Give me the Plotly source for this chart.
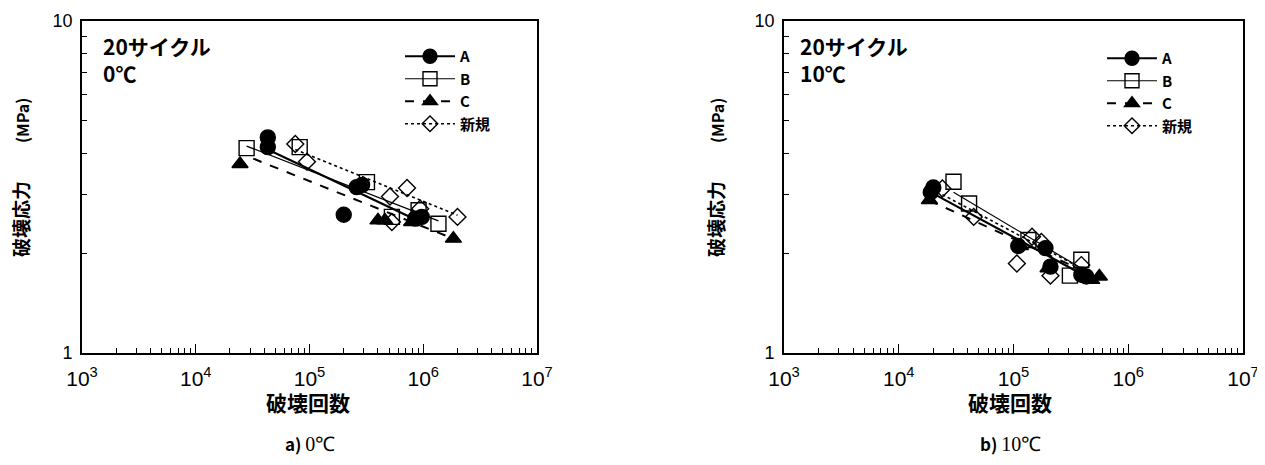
import plotly.graph_objects as go

# ---------------- data ----------------
# a) 0℃
A_N0 = [4.3e4, 4.3e4, 2.6e5, 2.9e5, 2.0e5, 8.5e5, 9.7e5]
A_S0 = [4.46, 4.17, 3.16, 3.21, 2.61, 2.54, 2.57]
B_N0 = [2.8e4, 8.2e4, 3.2e5, 5.3e5, 9.1e5, 1.36e6]
B_S0 = [4.14, 4.17, 3.27, 2.57, 2.69, 2.45]
C_N0 = [2.45e4, 4.0e5, 4.6e5, 7.9e5, 1.84e6]
C_S0 = [3.71, 2.51, 2.51, 2.48, 2.21]
X_N0 = [7.5e4, 9.5e4, 5.1e5, 7.2e5, 5.3e5, 9.4e5, 2.0e6]
X_S0 = [4.26, 3.77, 2.96, 3.14, 2.48, 2.72, 2.57]
# fitted lines (end points) 0℃
A_fitN0, A_fitS0 = [4.3e4, 1.0e6], [4.10, 2.46]
B_fitN0, B_fitS0 = [2.8e4, 1.36e6], [4.20, 2.50]
C_fitN0, C_fitS0 = [3.2e4, 1.72e6], [3.85, 2.23]
X_fitN0, X_fitS0 = [7.5e4, 2.0e6], [4.10, 2.60]

# b) 10℃
A_N1 = [2.0e4, 1.9e4, 1.1e5, 1.9e5, 2.1e5, 3.9e5, 4.3e5]
A_S1 = [3.15, 3.05, 2.10, 2.07, 1.82, 1.72, 1.70]
B_N1 = [3.0e4, 4.1e4, 1.35e5, 3.1e5, 3.9e5]
B_S1 = [3.28, 2.82, 2.19, 1.71, 1.91]
C_N1 = [1.85e4, 1.15e5, 2.0e5, 4.8e5, 5.6e5]
C_S1 = [2.89, 2.10, 1.80, 1.66, 1.70]
X_N1 = [2.4e4, 4.5e4, 1.07e5, 1.45e5, 1.75e5, 2.1e5, 3.9e5]
X_S1 = [3.13, 2.57, 1.86, 2.24, 2.16, 1.71, 1.84]
# fitted lines (end points) 10℃
A_fitN1, A_fitS1 = [2.0e4, 4.3e5], [3.02, 1.70]
B_fitN1, B_fitS1 = [3.0e4, 3.9e5], [3.05, 1.80]
C_fitN1, C_fitS1 = [1.85e4, 5.6e5], [2.88, 1.68]
X_fitN1, X_fitS1 = [2.4e4, 3.9e5], [3.00, 1.80]

series_names = ["A", "B", "C", "新規"]
x_tickvals = [1e3, 1e4, 1e5, 1e6, 1e7]
x_ticktext = ["10<sup>3</sup>", "10<sup>4</sup>", "10<sup>5</sup>", "10<sup>6</sup>", "10<sup>7</sup>"]
y_tickvals = [1, 10]
y_ticktext = ["1", "10"]
panel_notes = ["20サイクル<br>0℃", "20サイクル<br>10℃"]
captions = ["<b>a)</b> <span style='font-family:Liberation Serif;font-size:20px'>0℃</span>",
            "<b>b)</b> <span style='font-family:Liberation Serif;font-size:20px'>10℃</span>"]
x_title = "破壊回数"
y_title = "破壊応力　　<span style='font-size:16px'>(MPa)</span>"

# ---------------- styles / layout ----------------
W, H = 1257, 457          # page body has an 8px margin
OFF = 8


def px(x):
    return (x - OFF) / W


def py(y):
    return 1 - (y - OFF) / H


JP = "Noto Sans CJK JP"
BLACK = "black"
styles = {
    "A": dict(symbol="circle", size=15, line=dict(width=2.2, dash="solid")),
    "B": dict(symbol="square-open", size=15, line=dict(width=1.2, dash="solid")),
    "C": dict(symbol="triangle-up", size=14, line=dict(width=2, dash="dash")),
    "新規": dict(symbol="diamond-open", size=13, line=dict(width=1.6, dash="dot")),
}

panels = [
    dict(xa="x", ya="y", legend="legend",
         pts={"A": (A_N0, A_S0), "B": (B_N0, B_S0), "C": (C_N0, C_S0), "新規": (X_N0, X_S0)},
         fits={"A": (A_fitN0, A_fitS0), "B": (B_fitN0, B_fitS0), "C": (C_fitN0, C_fitS0), "新規": (X_fitN0, X_fitS0)}),
    dict(xa="x2", ya="y2", legend="legend2",
         pts={"A": (A_N1, A_S1), "B": (B_N1, B_S1), "C": (C_N1, C_S1), "新規": (X_N1, X_S1)},
         fits={"A": (A_fitN1, A_fitS1), "B": (B_fitN1, B_fitS1), "C": (C_fitN1, C_fitS1), "新規": (X_fitN1, X_fitS1)}),
]

fig = go.Figure()
for p in panels:
    for name in series_names:
        st = styles[name]
        fx, fy = p["fits"][name]
        fig.add_trace(go.Scatter(x=fx, y=fy, mode="lines", xaxis=p["xa"], yaxis=p["ya"],
                                 line=dict(color=BLACK, width=st["line"]["width"], dash=st["line"]["dash"]),
                                 showlegend=False, hoverinfo="skip"))
    for name in series_names:
        st = styles[name]
        px_, py_ = p["pts"][name]
        fig.add_trace(go.Scatter(x=px_, y=py_, mode="markers", xaxis=p["xa"], yaxis=p["ya"], name=name,
                                 marker=dict(symbol=st["symbol"], size=st["size"], color=BLACK,
                                             line=dict(color=BLACK, width=1.4)),
                                 showlegend=False))
    # legend entries (line + marker)
    for name in series_names:
        st = styles[name]
        fig.add_trace(go.Scatter(x=[None], y=[None], mode="lines+markers", xaxis=p["xa"], yaxis=p["ya"],
                                 name=name, legend=p["legend"],
                                 line=dict(color=BLACK, width=st["line"]["width"], dash=st["line"]["dash"]),
                                 marker=dict(symbol=st["symbol"], size=st["size"] - 1, color=BLACK,
                                             line=dict(color=BLACK, width=1.4))))

xdoms = [[px(82), px(537)], [px(784), px(1243)]]
ydom = [py(353), py(21)]

common_x = dict(type="log", range=[3, 7], tickmode="array", tickvals=x_tickvals, ticktext=x_ticktext,
                ticks="inside", ticklen=9, tickwidth=1.2, tickcolor=BLACK,
                showline=True, linecolor=BLACK, linewidth=1.6, mirror=True, showgrid=False, zeroline=False,
                tickfont=dict(family="Liberation Sans", size=21, color=BLACK),
                ticklabelstandoff=6,
                minor=dict(tickmode="array", ticks="inside", ticklen=5, tickcolor=BLACK, tickwidth=1,
                           showgrid=False,
                           tickvals=[m * 10 ** e for e in range(3, 7) for m in range(2, 10)]),
                automargin=False)
common_y = dict(type="log", range=[0, 1], tickmode="array", tickvals=y_tickvals, ticktext=y_ticktext,
                ticks="inside", ticklen=8, tickwidth=1.2, tickcolor=BLACK,
                showline=True, linecolor=BLACK, linewidth=1.6, mirror=True, showgrid=False, zeroline=False,
                tickfont=dict(family="Liberation Sans", size=18, color=BLACK),
                ticklabelstandoff=4,
                minor=dict(tickmode="array", ticks="inside", ticklen=5, tickcolor=BLACK, tickwidth=1,
                           showgrid=False, tickvals=[2, 3, 4, 5, 6, 7, 8, 9]),
                automargin=False)

legend_common = dict(font=dict(family=JP, size=15, color=BLACK, weight="bold"), bgcolor="rgba(0,0,0,0)",
                     borderwidth=0, itemwidth=50, tracegroupgap=0, yanchor="top", xanchor="left",
                     itemclick=False, itemdoubleclick=False)

fig.update_layout(
    width=W, height=H, margin=dict(l=0, r=0, t=0, b=0),
    paper_bgcolor="white", plot_bgcolor="white",
    font=dict(family=JP, color=BLACK),
    xaxis=dict(domain=xdoms[0], anchor="y", **common_x),
    yaxis=dict(domain=ydom, anchor="x", **common_y),
    xaxis2=dict(domain=xdoms[1], anchor="y2", **common_x),
    yaxis2=dict(domain=ydom, anchor="x2", **common_y),
    legend=dict(x=px(400), y=py(40), **legend_common),
    legend2=dict(x=px(1102), y=py(42), **legend_common),
)

ann = []
note_x = [101, 798]
cap_x = [310, 1010]
xt_x = [308, 1010]
yt_x = [21, 716]
for i in range(2):
    ann.append(dict(text=panel_notes[i], x=px(note_x[i]), y=py(29), xref="paper", yref="paper",
                    xanchor="left", yanchor="top", align="left", showarrow=False,
                    font=dict(family=JP, size=21, color=BLACK, weight="bold")))
    ann.append(dict(text=captions[i], x=px(cap_x[i]), y=py(443), xref="paper", yref="paper",
                    xanchor="center", yanchor="middle", showarrow=False,
                    font=dict(family=JP, size=17, color=BLACK)))
    ann.append(dict(text=x_title, x=px(xt_x[i]), y=py(402), xref="paper", yref="paper",
                    xanchor="center", yanchor="middle", showarrow=False,
                    font=dict(family=JP, size=21, color=BLACK, weight="bold")))
    ann.append(dict(text=y_title, x=px(yt_x[i]), y=py(178), xref="paper", yref="paper",
                    xanchor="center", yanchor="middle", showarrow=False, textangle=-90,
                    font=dict(family=JP, size=19, color=BLACK, weight="bold")))
fig.update_layout(annotations=ann)

fig.write_html("out.html")
